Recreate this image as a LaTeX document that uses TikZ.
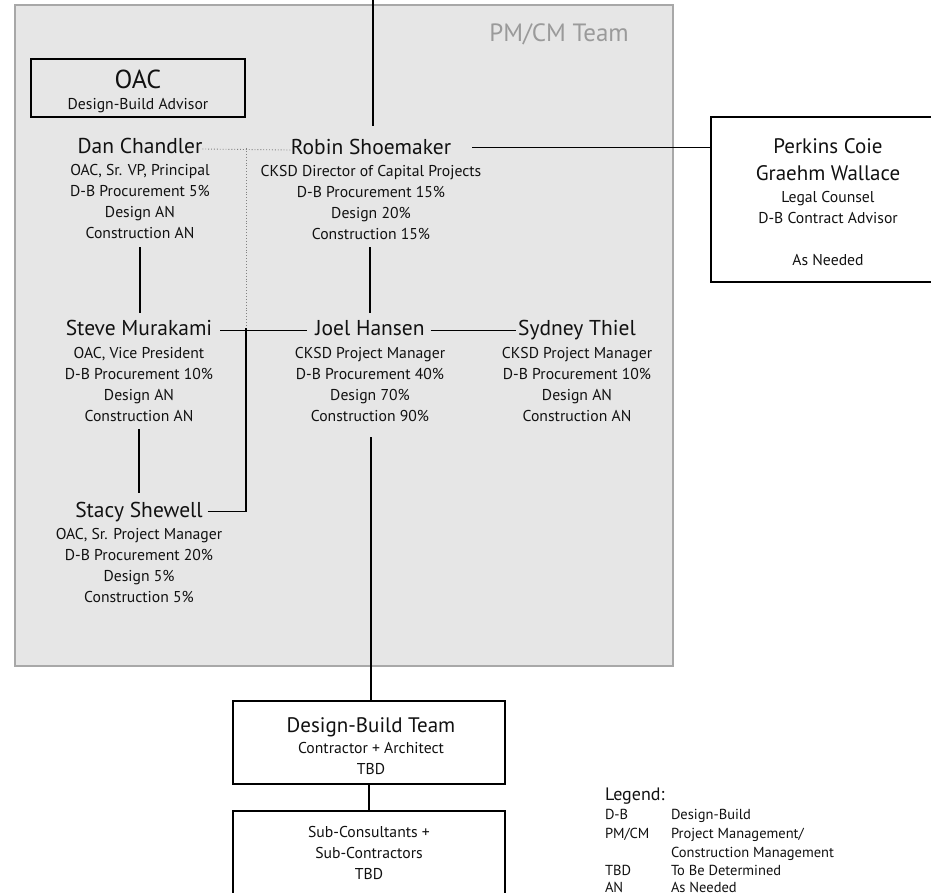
\documentclass[tikz,border=0pt]{standalone}
\usepackage{fontspec}
\setmainfont{PT Sans}
\usetikzlibrary{calc}
\definecolor{txt}{HTML}{111111}
\definecolor{panel}{HTML}{E6E6E6}
\definecolor{panelline}{HTML}{A8A8A8}
\definecolor{paneltext}{HTML}{9A9A9A}
\begin{document}
\begin{tikzpicture}[x=1pt,y=-1pt,
  every node/.style={text=txt, inner sep=0pt, outer sep=0pt},
  nm/.style={font=\fontsize{21.5}{24}\selectfont, anchor=base},
  dt/.style={font=\fontsize{15.7}{21}\selectfont, align=center, anchor=base},
  conn/.style={line width=1.8pt, draw=black},
  dotc/.style={line width=0.9pt, draw=gray, dotted},
  boxs/.style={draw=black, line width=1.8pt, fill=white, anchor=north west}]
\useasboundingbox (0,0) rectangle (931,892);
\fill[white] (0,0) rectangle (931,892);
% PM/CM panel
\draw[draw=panelline, fill=panel, line width=1.5pt] (15,5) rectangle (673,666);
\node[font=\fontsize{25}{28}\selectfont, text=paneltext, anchor=base] (pmcm) at (559,41) {PM/CM Team};
% OAC box
\node[boxs, fill=none, minimum width=214, minimum height=58] (oacbox) at (31,59) {};
\node[font=\fontsize{26}{28}\selectfont, anchor=base] (oac) at (138,88) {OAC};
\node[dt] (oacsub) at (138,109) {Design-Build Advisor};
% people (detail nodes are placed at the baseline of their last line)
\node[nm] (dan) at (140,153) {Dan Chandler};
\node[dt] (danD) at (140,238) {OAC, Sr. VP, Principal\\D-B Procurement 5\%\\Design AN\\Construction AN};
\node[nm] (robin) at (371,154) {Robin Shoemaker};
\node[dt] (robinD) at (371,239) {CKSD Director of Capital Projects\\D-B Procurement 15\%\\Design 20\%\\Construction 15\%};
\node[nm] (steve) at (139,335) {Steve Murakami};
\node[dt] (steveD) at (139,421) {OAC, Vice President\\D-B Procurement 10\%\\Design AN\\Construction AN};
\node[nm] (joel) at (370,335) {Joel Hansen};
\node[dt] (joelD) at (370,421) {CKSD Project Manager\\D-B Procurement 40\%\\Design 70\%\\Construction 90\%};
\node[nm] (sydney) at (577,335) {Sydney Thiel};
\node[dt] (sydneyD) at (577,421) {CKSD Project Manager\\D-B Procurement 10\%\\Design AN\\Construction AN};
\node[nm] (stacy) at (139,517) {Stacy Shewell};
\node[dt] (stacyD) at (139,602) {OAC, Sr. Project Manager\\D-B Procurement 20\%\\Design 5\%\\Construction 5\%};
% Perkins box
\node[boxs, minimum width=222, minimum height=165] (perk) at (711,117) {};
\node[nm, font=\fontsize{21}{24}\selectfont] (perk1) at (828,153) {Perkins Coie};
\node[nm, font=\fontsize{21}{24}\selectfont] (perk2) at (828,180) {Graehm Wallace};
\node[dt] (perk3) at (828,223) {Legal Counsel\\D-B Contract Advisor};
\node[dt] (perk4) at (828,265) {As Needed};
% Design-Build boxes
\node[boxs, minimum width=272, minimum height=83] (db) at (233,701) {};
\node[nm, font=\fontsize{21}{24}\selectfont] (db1) at (371,732) {Design-Build Team};
\node[dt] (db2) at (371,774) {Contractor + Architect\\TBD};
\node[boxs, minimum width=272, minimum height=100] (sub) at (233,811) {};
\node[dt] (sub1) at (369,879) {Sub-Consultants +\\Sub-Contractors\\TBD};
% legend
\node[font=\fontsize{18}{22}\selectfont, anchor=base west] (leg) at (605,800) {Legend:};
\begin{scope}[every node/.append style={font=\fontsize{14.5}{19}\selectfont, anchor=base west}]
\node (l1a) at (605,819) {D-B};
\node (l1b) at (671,819) {Design-Build};
\node (l2a) at (605,838) {PM/CM};
\node (l2b) at (671,838) {Project Management/};
\node (l2c) at (671,857) {Construction Management};
\node (l3a) at (605,875) {TBD};
\node (l3b) at (671,875) {To Be Determined};
\node (l4a) at (605,892) {AN};
\node (l4b) at (671,892) {As Needed};
\end{scope}
% connectors
\coordinate (topin) at (373,0);
\draw[conn] (topin) -- (373,126);
\coordinate (dv) at (246,148);
\coordinate (jn) at (246,328);
\draw[dotc] ([yshift=1.5pt]dan.mid east) -- ([yshift=1.5pt]robin.mid west);
\draw[dotc] (dv) -- (jn);
\draw[conn] ([xshift=21,yshift=4pt]robin.mid east) -- ([yshift=4pt]robin.mid east -| perk.west);
\draw[conn] ([xshift=8,yshift=2pt]steve.mid east) -- ([xshift=-8,yshift=2pt]joel.mid west);
\draw[conn] ([xshift=6,yshift=2pt]joel.mid east) -- ([xshift=-2,yshift=2pt]sydney.mid west);
\draw[conn] ([xshift=5,yshift=3pt]stacy.mid east) -| (jn);
\draw[conn] (dan.south |- 0,247) coordinate (a1) -- (a1 |- 0,313);
\draw[conn] (joel.north |- 0,247) coordinate (a2) -- (a2 |- 0,313);
\draw[conn] (steve.south |- 0,429) coordinate (a3) -- (a3 |- 0,493);
\draw[conn] (371,437) coordinate (a4) -- (a4 |- db.north);
\draw[conn] (db.south) -- (sub.north);
\end{tikzpicture}
\end{document}
